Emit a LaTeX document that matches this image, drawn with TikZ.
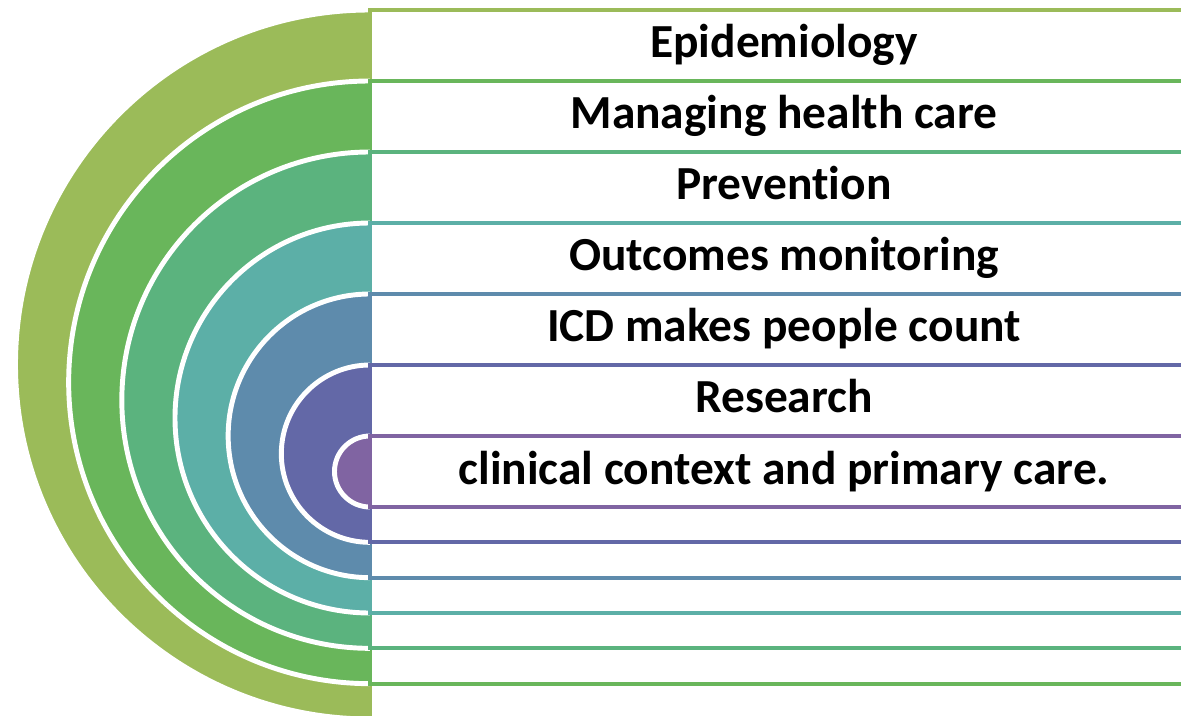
\documentclass[tikz,border=0pt]{standalone}
\usepackage{fontspec}
\setmainfont{Carlito}[Ligatures=CommonOff]
\usetikzlibrary{calc}

\definecolor{lvlA}{HTML}{9BBB59}
\definecolor{lvlB}{HTML}{69B65B}
\definecolor{lvlC}{HTML}{5BB37E}
\definecolor{lvlD}{HTML}{5CAFA7}
\definecolor{lvlE}{HTML}{5E8BAC}
\definecolor{lvlF}{HTML}{6368A7}
\definecolor{lvlG}{HTML}{8064A2}

\tikzset{
  lbl/.style={font=\bfseries\fontsize{27}{32}\selectfont, inner sep=0pt, anchor=base},
  ring/.style={draw=white, line width=2.8pt},
  bar/.style={line width=2.3pt, fill=white}
}

\begin{document}
\begin{tikzpicture}[x=0.02cm,y=-0.02cm]
\clip (0,0) rectangle (1181,716);
% half disks and their bars, outermost first
\foreach \i/\col/\txt in {1/lvlA/Epidemiology, 2/lvlB/Managing health care, 3/lvlC/Prevention, 4/lvlD/Outcomes monitoring, 5/lvlE/ICD makes people count, 6/lvlF/Research, 7/lvlG/clinical context and primary care.}{
  \pgfmathsetmacro{\tp}{10+71*(\i-1)}
  \pgfmathsetmacro{\bt}{719-35.33*(\i-1)}
  \pgfmathsetmacro{\rd}{(\bt-\tp)/2}
  \fill[\col] (370,\tp) arc[start angle=90, end angle=270, radius=\rd*0.02cm] -- cycle;
  \draw[ring] (370,\tp) arc[start angle=90, end angle=270, radius=\rd*0.02cm];
  \draw[bar, draw=\col] (370,\tp) rectangle (1198,\bt);
  \node[lbl] (lbl\i) at (784,\tp+48) {\txt};
}
\end{tikzpicture}
\end{document}
